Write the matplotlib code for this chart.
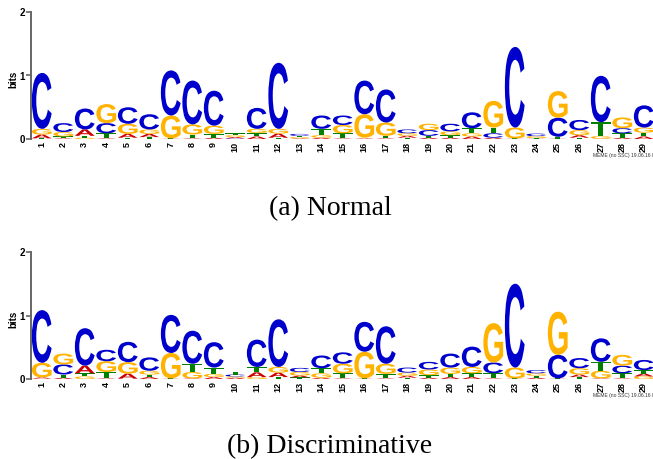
import matplotlib
matplotlib.use("Agg")
import matplotlib.pyplot as plt
from matplotlib.textpath import TextPath
from matplotlib.patches import PathPatch
from matplotlib.font_manager import FontProperties
from matplotlib.transforms import Affine2D

positions = list(range(1, 30))
bases = ["A", "C", "G", "T"]
base_colors = {"A": "#CC0000", "C": "#0000CC", "G": "#FFB300", "T": "#008000"}

# (a) Normal: information content (bits) of each base per position
normal_A = [0.06, 0.01, 0.10, 0.01, 0.06, 0.05, 0.005, 0.01, 0.02, 0.02,
            0.04, 0.065, 0.01, 0.02, 0.01, 0.01, 0.01, 0.03, 0.02, 0.02,
            0.04, 0.02, 0.005, 0.005, 0.005, 0.04, 0.005, 0.02, 0.04]
normal_C = [0.88, 0.14, 0.33, 0.16, 0.26, 0.24, 0.71, 0.69, 0.55, 0.01,
            0.33, 1.04, 0.03, 0.21, 0.15, 0.53, 0.52, 0.06, 0.09, 0.12,
            0.25, 0.07, 1.27, 0.04, 0.30, 0.16, 0.73, 0.08, 0.35]
normal_G = [0.09, 0.07, 0.02, 0.30, 0.16, 0.07, 0.36, 0.16, 0.13, 0.03,
            0.065, 0.075, 0.02, 0.04, 0.13, 0.37, 0.21, 0.04, 0.10, 0.06,
            0.05, 0.42, 0.17, 0.03, 0.42, 0.08, 0.04, 0.17, 0.08]
normal_T = [0.01, 0.03, 0.03, 0.08, 0.02, 0.03, 0.005, 0.06, 0.06, 0.03,
            0.055, 0.02, 0.02, 0.10, 0.08, 0.01, 0.04, 0.02, 0.03, 0.04,
            0.08, 0.09, 0.005, 0.01, 0.03, 0.02, 0.22, 0.07, 0.06]

# (b) Discriminative
disc_A = [0.02, 0.02, 0.12, 0.01, 0.08, 0.03, 0.005, 0.01, 0.03, 0.02,
          0.075, 0.07, 0.03, 0.02, 0.01, 0.005, 0.01, 0.03, 0.02, 0.03,
          0.03, 0.01, 0.005, 0.02, 0.005, 0.04, 0.01, 0.01, 0.045]
disc_C = [0.83, 0.16, 0.59, 0.18, 0.32, 0.21, 0.60, 0.52, 0.40, 0.03,
          0.43, 0.75, 0.065, 0.20, 0.18, 0.47, 0.59, 0.08, 0.12, 0.22,
          0.32, 0.17, 1.32, 0.05, 0.37, 0.16, 0.37, 0.12, 0.16]
disc_G = [0.23, 0.17, 0.04, 0.17, 0.18, 0.06, 0.40, 0.10, 0.05, 0.02,
          0.03, 0.09, 0.055, 0.07, 0.15, 0.42, 0.16, 0.05, 0.09, 0.10,
          0.10, 0.62, 0.17, 0.04, 0.68, 0.10, 0.12, 0.17, 0.04]
disc_T = [0.005, 0.05, 0.05, 0.10, 0.005, 0.04, 0.005, 0.13, 0.10, 0.04,
          0.085, 0.03, 0.025, 0.08, 0.08, 0.005, 0.07, 0.02, 0.04, 0.05,
          0.06, 0.08, 0.005, 0.03, 0.005, 0.03, 0.14, 0.08, 0.055]

panel_captions = ["(a) Normal", "(b) Discriminative"]
stamp = "MEME (no SSC) 19.06.16 09:00"

LOGO_FONT = FontProperties(family="Liberation Sans", weight="bold")
LABEL_FONT = "Liberation Sans"

W, H = 653, 459
fig = plt.figure(figsize=(W / 100, H / 100), dpi=100)
fig.patch.set_facecolor("white")

col_px = 21.5         # width of one logo column in pixels
axis_left_px = 31


def draw_letter(ax, ch, x, y0, h, w, color):
    tp = TextPath((0, 0), ch, size=1, prop=LOGO_FONT)
    bb = tp.get_extents()
    t = (Affine2D().translate(-bb.x0, -bb.y0)
         .scale(w / bb.width, h / bb.height)
         .translate(x - w / 2, y0))
    ax.add_patch(PathPatch(t.transform_path(tp), facecolor=color,
                           edgecolor="none", lw=0))


def draw_logo(ax, columns):
    for i, pos in enumerate(positions):
        heights = sorted(((columns[b][i], b) for b in bases))
        y = 0.0
        for h, b in heights:
            if h > 0:
                draw_letter(ax, b, pos, y, h, 0.92, base_colors[b])
            y += h


panels = [
    ({"A": normal_A, "C": normal_C, "G": normal_G, "T": normal_T}, 139),
    ({"A": disc_A, "C": disc_C, "G": disc_G, "T": disc_T}, 379),
]
caption_y_px = [215, 453]

for (cols, base_px), cap, cap_y in zip(panels, panel_captions, caption_y_px):
    top_px = base_px - 127
    ax = fig.add_axes([axis_left_px / W, (H - base_px) / H,
                       29.5 * col_px / W, 127 / H])
    ax.set_xlim(0.5, 30)
    ax.set_ylim(0, 2)
    draw_logo(ax, cols)
    for s in ("top", "right", "bottom"):
        ax.spines[s].set_visible(False)
    ax.spines["left"].set_color("#666666")
    ax.spines["left"].set_linewidth(1.4)
    ax.set_yticks([0, 1, 2])
    ax.set_yticklabels(["0", "1", "2"], fontsize=7, fontweight="bold",
                       family=LABEL_FONT)
    ax.tick_params(axis="y", length=3.5, width=1.2, color="#666666", pad=1)
    ax.set_xticks(positions)
    ax.set_xticklabels([str(p) for p in positions], rotation=90,
                       fontsize=6.5, fontweight="bold", family=LABEL_FONT)
    ax.tick_params(axis="x", length=0, pad=2)
    ax.set_ylabel("bits", fontsize=7, fontweight="bold", family=LABEL_FONT)
    ax.yaxis.set_label_coords(-0.0205, 0.47)
    ax.patch.set_alpha(0)

    fig.text(593 / W, (H - (base_px + 16)) / H, stamp, fontsize=3.6,
             family=LABEL_FONT, color="#333333", ha="left", va="center")
    fig.text(330 / W, (H - cap_y) / H, cap, fontsize=20,
             family="Liberation Serif", ha="center", va="baseline")

fig.savefig("out.png", dpi=100)
